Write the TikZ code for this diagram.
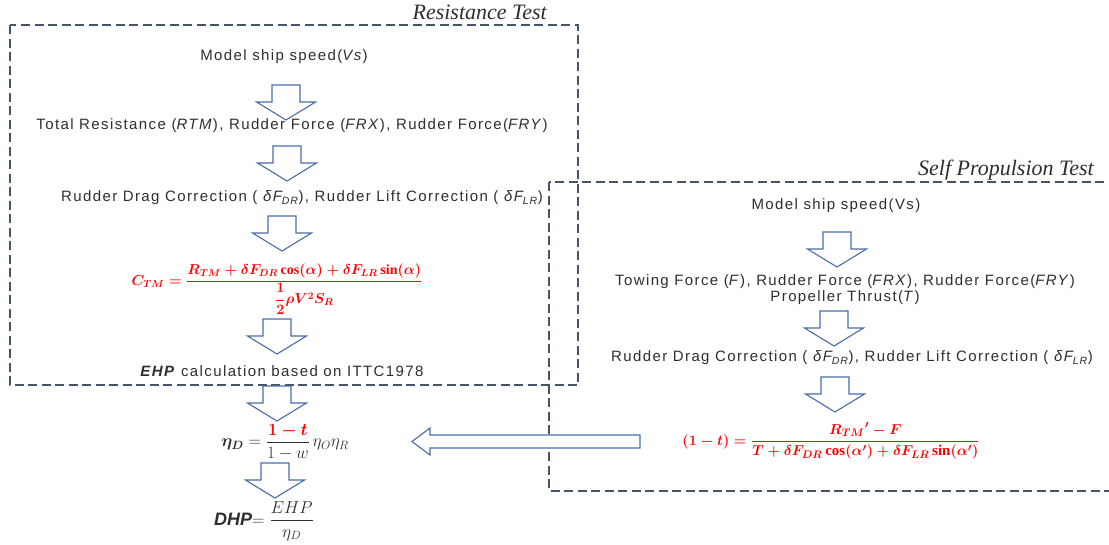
\documentclass[tikz,border=0pt]{standalone}
\usepackage{amsmath}
\usepackage{bm}
\usepackage{fontspec}
\setmainfont{Liberation Serif}
\setsansfont{Liberation Sans}
\newfontfamily{\stepfamily}{Liberation Sans}[LetterSpace=9.3]
\usetikzlibrary{shapes.arrows}

\definecolor{boxgray}{HTML}{44546A}
\definecolor{arrowblue}{HTML}{4A6DA7}
\definecolor{formred}{HTML}{FF0000}
\definecolor{inkgray}{HTML}{2E2E2E}

\newsavebox{\ctmbox}
\newsavebox{\etadbox}
\newsavebox{\dhpbox}
\newsavebox{\thrustbox}
\newcommand{\ruddercorr}{Rudder Drag Correction ( \textit{δF\textsubscript{DR}}), Rudder Lift Correction ( \textit{δF\textsubscript{LR}})}

\tikzset{
  testbox/.style={draw=boxgray, line width=2.6pt, dash pattern=on 9pt off 4.5pt},
  testtitle/.style={font=\fontsize{22}{24}\selectfont\itshape, text=inkgray, inner sep=0pt},
  steptext/.style={font=\stepfamily\fontsize{15}{18}\selectfont, text=inkgray, inner sep=1pt, align=center},
  formulatext/.style={inner sep=0pt},
  arrowline/.style={draw=arrowblue, fill=white, line width=1.1pt, line join=miter},
  % hollow block arrow pointing down, origin at the middle of its tail
  pics/downblock/.style={code={
    \draw[arrowline] (-14,0) -- (14,0) -- (14,17) -- (29.5,17) -- (0,35)
      -- (-29.5,17) -- (-14,17) -- cycle;}},
  % hollow block arrow pointing left, origin at its tip
  pics/leftblock/.style={code={
    \draw[arrowline] (0,0) -- (18,-13.5) -- (18,-6.5) -- (228,-6.5) -- (228,6.5)
      -- (18,6.5) -- (18,13.5) -- cycle;}}
}

\begin{document}
% formulas of the two chains, set once in boxes
\sbox{\ctmbox}{\fontsize{14}{17}\selectfont\color{formred}\boldmath
  $C_{TM}=\dfrac{R_{TM}+\delta F_{DR}\cos(\alpha)+\delta F_{LR}\sin(\alpha)}{\dfrac{1}{2}\rho V^{2}S_{R}}$}
\sbox{\etadbox}{\fontsize{18}{21}\selectfont\color{inkgray}%
  $\bm{\eta_{D}}=\dfrac{\textcolor{formred}{\bm{1-t}}}{1-w}\,\eta_{O}\eta_{R}$}
\sbox{\dhpbox}{\fontsize{18}{21}\selectfont\color{inkgray}%
  \textsf{\textbf{\textit{DHP}}}$=\dfrac{EHP}{\eta_{D}}$}
\sbox{\thrustbox}{\fontsize{15}{18}\selectfont\color{formred}\boldmath
  $(1-t)=\dfrac{{R_{TM}}'-F}{T+\delta F_{DR}\cos(\alpha')+\delta F_{LR}\sin(\alpha')}$}
\begin{tikzpicture}[x=1pt, y=-1pt]
\useasboundingbox (0,0) rectangle (1109,544);
\clip (0,0) rectangle (1109,544);

% frames of the two tests
\draw[testbox] (10,25) rectangle (578,385);
\draw[testbox] (549,182) rectangle (1125,491);
\node[testtitle, anchor=base east] (rtitle) at (547,19) {Resistance Test};
\node[testtitle, anchor=base east] (stitle) at (1094,175) {Self Propulsion Test};

% resistance test chain
\node[steptext] (r1) at (284,57) {Model ship speed(\textit{Vs})};
\node[steptext] (r2) at (292,126) {Total Resistance (\textit{RTM}), Rudder Force (\textit{FRX}), Rudder Force(\textit{FRY})};
\node[steptext] (r3) at (302,198) {\ruddercorr};
\node[formulatext] (r4) at (277,289) {\usebox{\ctmbox}};
\node[steptext] (r5) at (282,371) {\textbf{\textit{EHP}} calculation based on ITTC1978};
\node[formulatext] (etad) at (285,442) {\usebox{\etadbox}};
\node[formulatext] (dhp) at (264,521) {\usebox{\dhpbox}};

\pic (ra1) at (286,85) {downblock};
\pic (ra2) at (287,146) {downblock};
\pic (ra3) at (282,216) {downblock};
\pic (ra4) at (277,319) {downblock};
\pic (ra5) at (277,386) {downblock};
\pic (ra6) at (275,463) {downblock};

% self propulsion test chain
\node[steptext] (s1) at (836,206) {Model ship speed(Vs)};
\node[steptext] (s2) at (845,290) {Towing Force (\textit{F}), Rudder Force (\textit{FRX}), Rudder Force(\textit{FRY})\\[-2pt]Propeller Thrust(\textit{T})};
\node[steptext] (s3) at (852,358) {\ruddercorr};
\node[formulatext] (s4) at (831,441) {\usebox{\thrustbox}};

\pic (sa1) at (837,232) {downblock};
\pic (sa2) at (834,311) {downblock};
\pic (sa3) at (835,377) {downblock};

% thrust deduction handed back to the propulsive efficiency
\pic (back) at (412,441.5) {leftblock};
\end{tikzpicture}
\end{document}
